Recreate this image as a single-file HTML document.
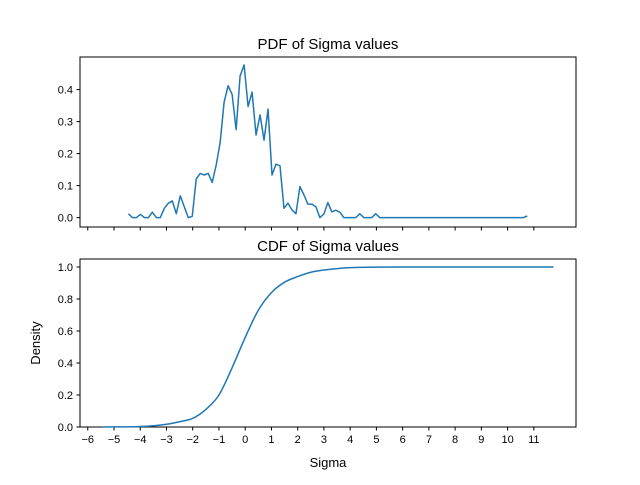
<!DOCTYPE html>
<html><head><meta charset="utf-8"><style>
body{margin:0;background:#fff}
svg{font-family:"Liberation Sans","DejaVu Sans",sans-serif}
</style></head><body>
<svg id="chart" width="640" height="480" xmlns="http://www.w3.org/2000/svg"></svg>
<script>
const pdfStart = -4.45, pdfStep = 0.152;
const pdfValues = [0.012,0,0,0.010,0,0,0.017,0,0,0.029,0.045,0.052,0.012,0.068,0.034,0,0.004,0.121,0.138,0.133,0.138,0.110,0.164,0.235,0.362,0.412,0.385,0.275,0.443,0.477,0.347,0.392,0.258,0.321,0.242,0.339,0.133,0.167,0.162,0.029,0.045,0.024,0.012,0.097,0.071,0.042,0.042,0.034,0,0.011,0.047,0.018,0.023,0.017,0,0,0,0,0.012,0,0,0,0.012,0,0,0,0,0,0,0,0,0,0,0,0,0,0,0,0,0,0,0,0,0,0,0,0,0,0,0,0,0,0,0,0,0,0,0,0,0,0.005];
const cdfX = [-5.45,-4.5,-4,-3.5,-3,-2.5,-2,-1.5,-1,-0.5,0,0.5,1,1.5,2,2.5,3,3.5,4,5,6,11.75];
const cdfY = [0,0.001,0.003,0.008,0.017,0.033,0.054,0.11,0.2,0.37,0.56,0.73,0.84,0.905,0.94,0.967,0.981,0.99,0.996,0.999,1,1];
const xTicks = [-6,-5,-4,-3,-2,-1,0,1,2,3,4,5,6,7,8,9,10,11];
const pdfTicks = [0,0.1,0.2,0.3,0.4];
const cdfTicks = [0,0.2,0.4,0.6,0.8,1.0];

const NS="http://www.w3.org/2000/svg", svg=document.getElementById('chart');
const L=80,R=576;
const xs=v=>245.2+v*26.24;
const ys1=v=>217.6-v*320;
const ys2=v=>427-v*160;
function mk(t,a,txt){const e=document.createElementNS(NS,t);for(const k in a)e.setAttribute(k,a[k]);if(txt!==undefined)e.textContent=txt;svg.appendChild(e);return e;}

function axes(top,bot,name,ticks,ys,fmt,labels){
  const f=mk('rect',{x:L,y:top,width:R-L,height:bot-top,fill:'none',stroke:'#000','stroke-width':1});
  
  
  ticks.forEach(t=>{const y=ys(t);
    const l=mk('line',{x1:L-3.5,x2:L,y1:y,y2:y,stroke:'#000','stroke-width':1});
    
    
    const tx=mk('text',{x:L-7,y:y+4,'font-size':11,'text-anchor':'end'},fmt(t));
    
    
  });
  xTicks.forEach(t=>{const x=xs(t);
    const l=mk('line',{x1:x,x2:x,y1:bot,y2:bot+3.5,stroke:'#000','stroke-width':1});
    
    
    if(labels){const tx=mk('text',{x:x,y:bot+16,'font-size':11,'text-anchor':'middle'},String(t).replace('-','\u2212'));
      
      }
  });
}
axes(57,227,'pdf',pdfTicks,ys1,v=>v.toFixed(1),false);
axes(259,427,'cdf',cdfTicks,ys2,v=>v.toFixed(1),true);

const p1=mk('polyline',{points:pdfValues.map((v,i)=>xs(pdfStart+i*pdfStep)+','+ys1(v)).join(' '),fill:'none',stroke:'#1f77b4','stroke-width':1.5,'stroke-linejoin':'round'});



let pts=cdfX.map((x,i)=>[xs(x),ys2(cdfY[i])]);
let d='M'+pts[0][0]+','+pts[0][1];
for(let i=0;i<pts.length-1;i++){const p0=pts[Math.max(0,i-1)],a=pts[i],b=pts[i+1],p3=pts[Math.min(pts.length-1,i+2)];
  d+=' C'+(a[0]+(b[0]-p0[0])/6)+','+(a[1]+(b[1]-p0[1])/6)+' '+(b[0]-(p3[0]-a[0])/6)+','+(b[1]-(p3[1]-a[1])/6)+' '+b[0]+','+b[1];}
const p2=mk('path',{d:d,fill:'none',stroke:'#1f77b4','stroke-width':1.5});



const t1=mk('text',{x:328,y:49,'font-size':15,'text-anchor':'middle'},'PDF of Sigma values');


const t2=mk('text',{x:328,y:251,'font-size':15,'text-anchor':'middle'},'CDF of Sigma values');


const xl=mk('text',{x:328,y:467,'font-size':13,'text-anchor':'middle'},'Sigma');


const yl=mk('text',{x:40,y:343,'font-size':13,'text-anchor':'middle',transform:'rotate(-90 40 343)'},'Density');


</script>
</body></html>
